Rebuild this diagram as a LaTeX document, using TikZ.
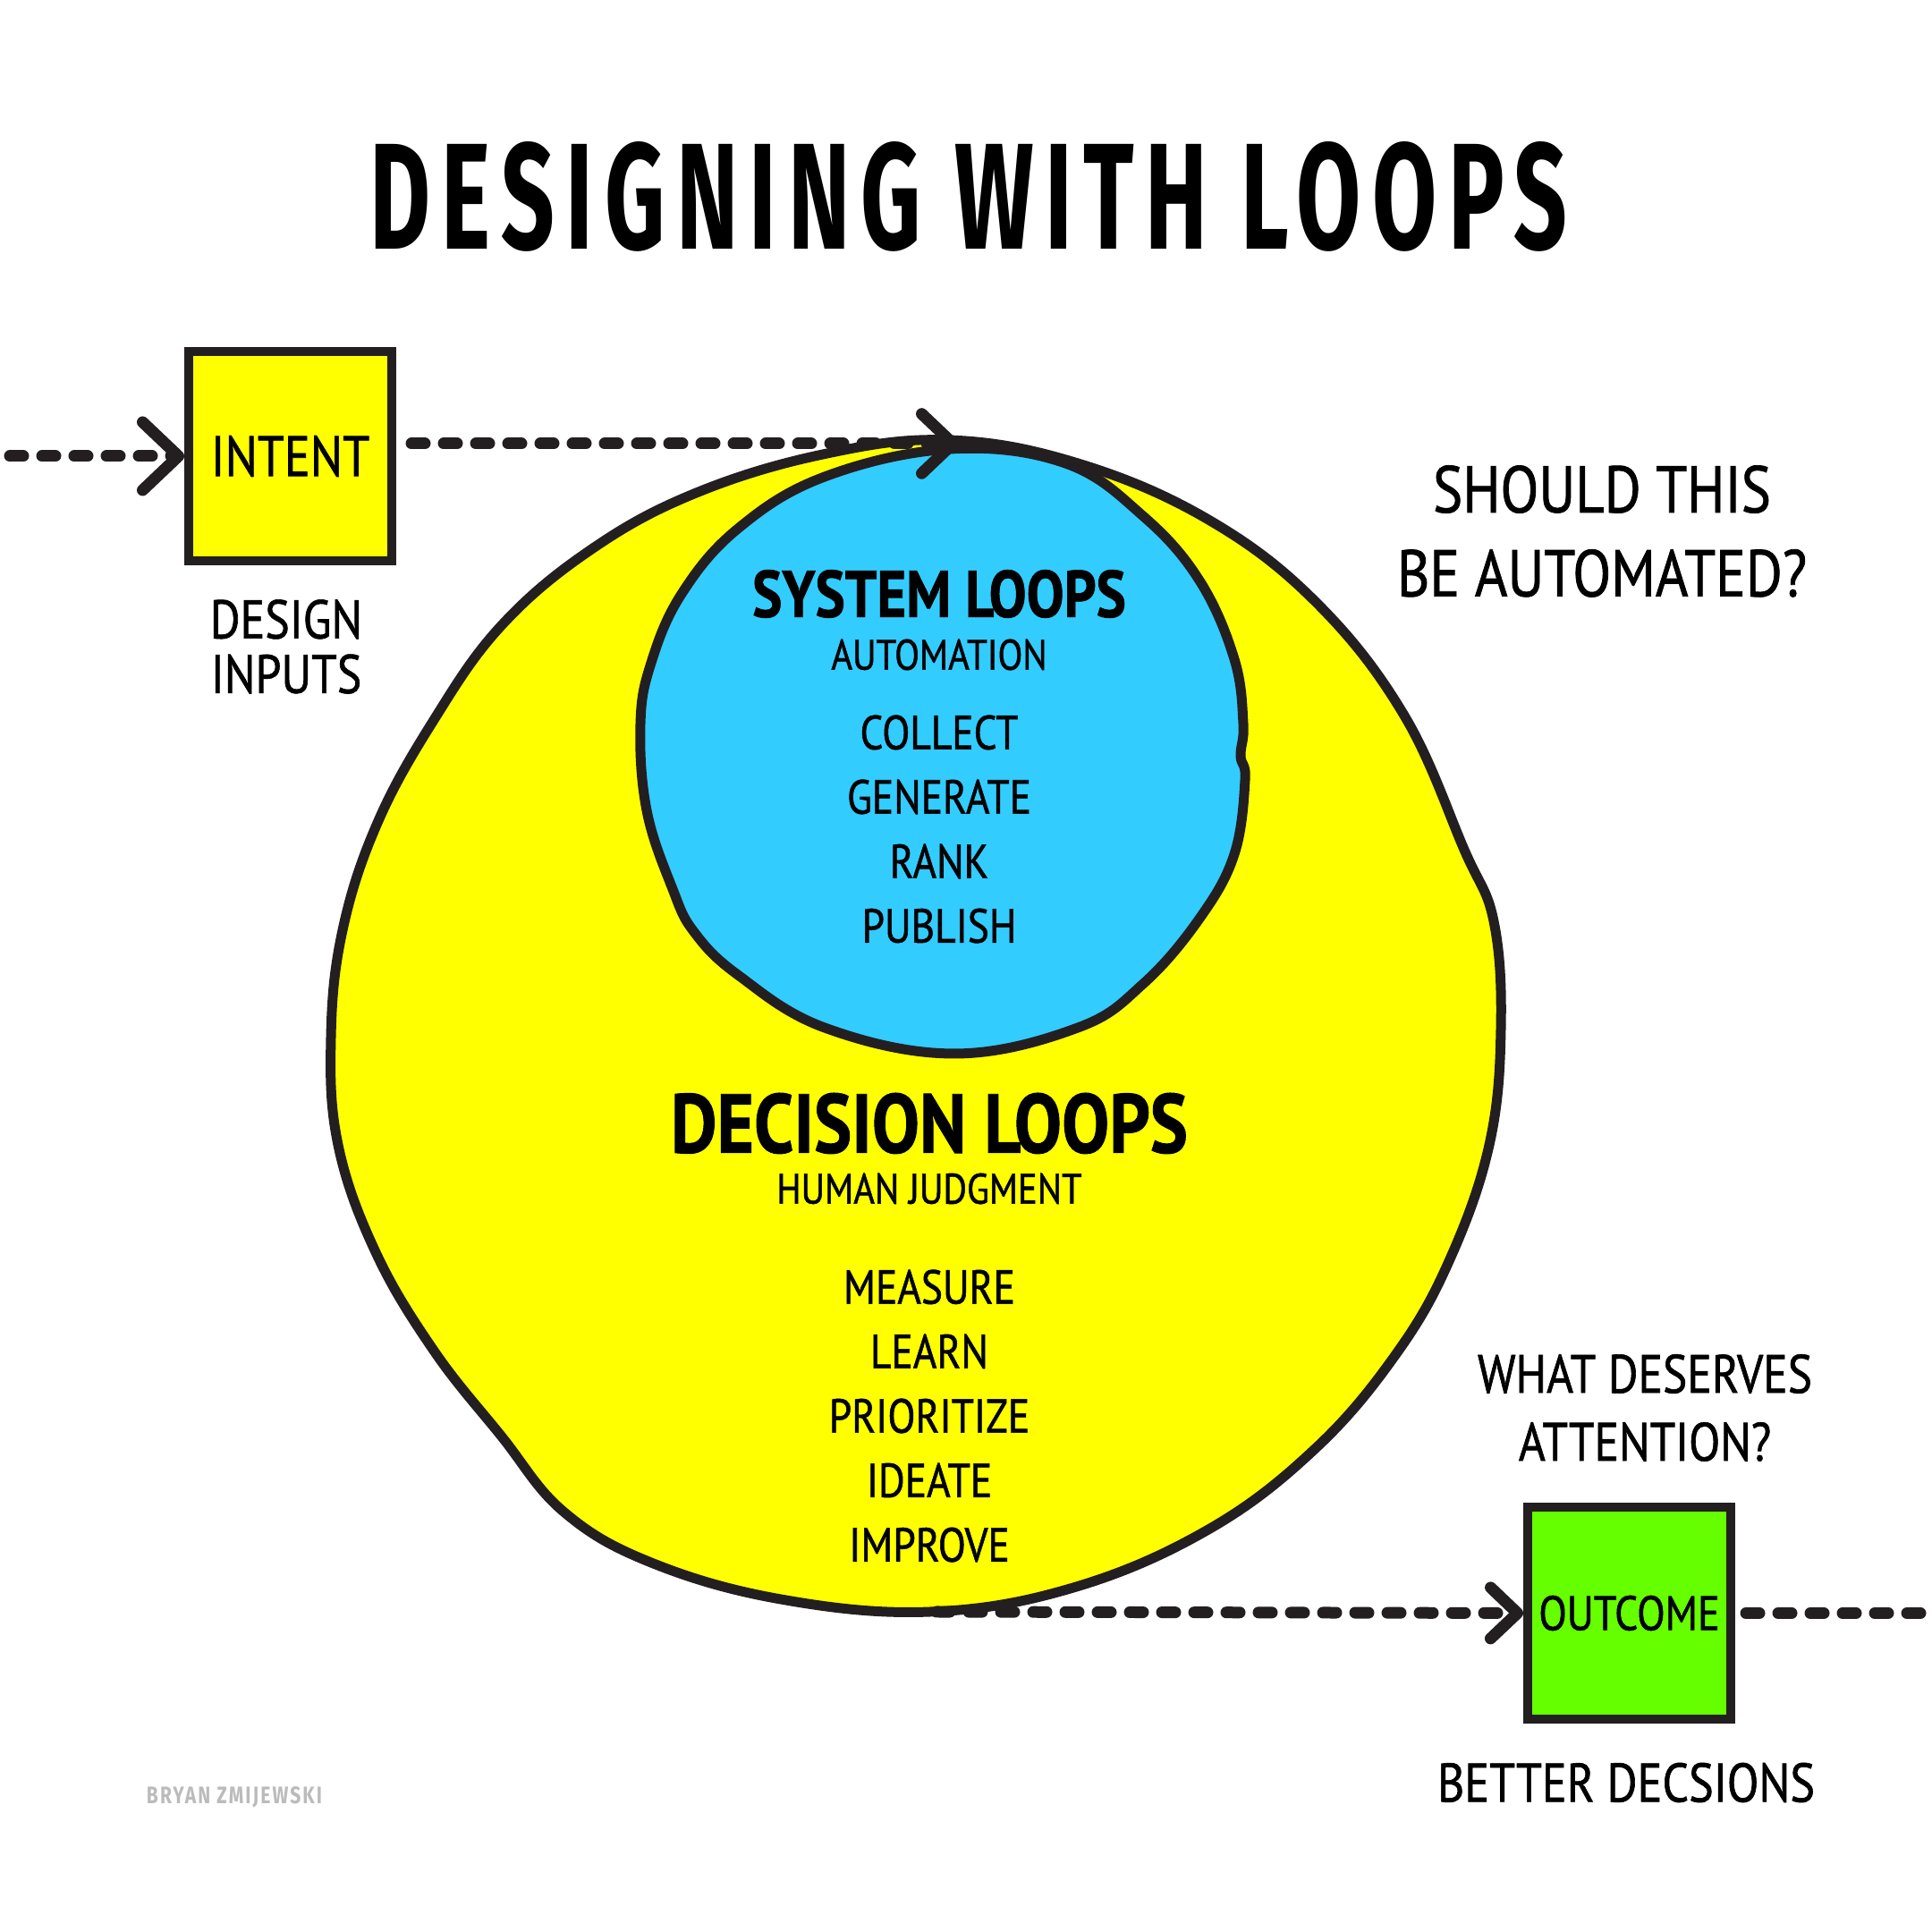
\documentclass[tikz,border=0pt]{standalone}
\usepackage{fontspec}
\setmainfont{PT Sans}
\newfontfamily\handfont{PT Sans}[FakeStretch=0.85,FakeBold=1]
\newfontfamily\titlefont{Fira Sans}
\usetikzlibrary{arrows.meta}

\definecolor{inkc}{HTML}{231F20}
\definecolor{sunc}{HTML}{FFFF00}
\definecolor{skyc}{HTML}{33CCFF}
\definecolor{limec}{HTML}{66FF00}
\definecolor{signc}{HTML}{BBBBBB}

\tikzset{
  outline/.style={draw=inkc,line width=0.11cm,line join=round},
  cardbox/.style={rectangle,draw=inkc,line width=0.1cm,minimum width=2.27cm,minimum height=2.34cm,inner sep=0pt},
  flow/.style={draw=inkc,line width=0.13cm,line cap=round,dash pattern=on 0.15cm off 0.21cm},
  chev/.style={-{Straight Barb[length=#1,width=1.9*#1,round]}},
  heading/.style={inner sep=0pt,font=\handfont\bfseries\fontsize{#1}{24}\selectfont},
  subhead/.style={inner sep=0pt,font=\handfont\fontsize{13.6}{15}\selectfont},
  items/.style={inner sep=0pt,align=center,font=\handfont\fontsize{15.2}{20.5}\selectfont},
  note/.style 2 args={inner sep=0pt,align=center,font=\handfont\fontsize{#1}{#2}\selectfont}
}

\begin{document}
\begin{tikzpicture}

\useasboundingbox (0,0) rectangle (21.6,21.6);
\fill[white] (0,0) rectangle (21.6,21.6);

\node[inner sep=0pt] (title) at (10.83,19.40) {\resizebox{13.39cm}{1.2cm}{\titlefont\bfseries\addfontfeature{LetterSpace=12}DESIGNING WITH LOOPS}};

\path[outline,fill=sunc] plot[smooth cycle,tension=0.65] coordinates {(10.60,16.68) (12.05,16.42) (13.51,15.79) (14.72,14.86) (15.70,13.60) (16.37,12.10) (16.70,11.30) (16.78,10.10) (16.65,8.80) (16.20,7.50) (15.60,6.45) (14.70,5.40) (13.51,4.50) (12.00,3.85) (10.40,3.58) (8.73,3.72) (7.28,4.13) (6.30,4.70) (5.60,5.55) (4.85,6.50) (4.20,7.60) (3.78,8.80) (3.70,10.00) (3.83,11.20) (4.22,12.40) (4.85,13.55) (5.60,14.60) (6.60,15.45) (7.76,16.08) (9.20,16.52)};

\path[outline,fill=skyc] plot[smooth cycle,tension=0.65] coordinates {(10.63,16.58) (11.91,16.42) (12.78,15.83) (13.41,15.11) (13.80,14.23) (13.90,13.51) (13.87,13.15) (13.92,12.88) (13.80,12.05) (13.41,11.33) (12.78,10.60) (12.05,10.11) (10.67,9.82) (9.22,10.11) (8.25,10.70) (7.76,11.18) (7.52,11.66) (7.23,12.54) (7.16,13.51) (7.28,14.19) (7.62,14.96) (8.25,15.69) (9.22,16.27)};

\coordinate (din) at (0.11,16.50);
\coordinate (dtop) at (10.72,16.64);
\coordinate (dbot) at (10.47,3.58);
\coordinate (dout) at (21.7,3.53);

\node[cardbox,fill=sunc,font=\handfont\fontsize{18.1}{20}\selectfont] (intent) at (3.245,16.50) {INTENT};
\node[cardbox,fill=limec,minimum height=2.37cm,font=\handfont\fontsize{15.4}{17}\selectfont] (outcome) at (18.215,3.565) {OUTCOME};

\node[note={17.3}{17.4}] (inputs) at (3.20,14.37) {DESIGN\\INPUTS};
\node[note={21}{26.7}] (should) at (17.91,15.66) {SHOULD THIS\\BE AUTOMATED?};
\node[note={17.2}{21.6}] (deserves) at (18.39,5.86) {WHAT DESERVES\\ATTENTION?};
\node[note={17.4}{18}] (better) at (18.18,1.67) {BETTER DECSIONS};

\node[heading=21] (sys) at (10.50,14.96) {SYSTEM LOOPS};
\node[subhead] (auto) at (10.50,14.28) {AUTOMATION};
\node[items] (syslist) at (10.50,12.33) {COLLECT\\GENERATE\\RANK\\PUBLISH};

\node[heading=26.6] (dec) at (10.39,9.04) {DECISION LOOPS};
\node[subhead] (human) at (10.39,8.31) {HUMAN JUDGMENT};
\node[items] (declist) at (10.39,5.77) {MEASURE\\LEARN\\PRIORITIZE\\IDEATE\\IMPROVE};

\node[inner sep=0pt,text=signc] (sign) at (2.62,1.51) {\resizebox{1.96cm}{0.19cm}{\titlefont\bfseries\addfontfeature{LetterSpace=10}BRYAN ZMIJEWSKI}};

\draw[flow,chev=0.4cm] (din) -- (intent.west);
\draw[flow,chev=0.35cm,shorten <=0.17cm] (dtop -| intent.east) -- (dtop);
\draw[flow,chev=0.3cm] (dbot) -- (outcome.west);
\draw[flow,shorten <=0.12cm] (outcome.east) -- (outcome.east -| dout);

\end{tikzpicture}
\end{document}
